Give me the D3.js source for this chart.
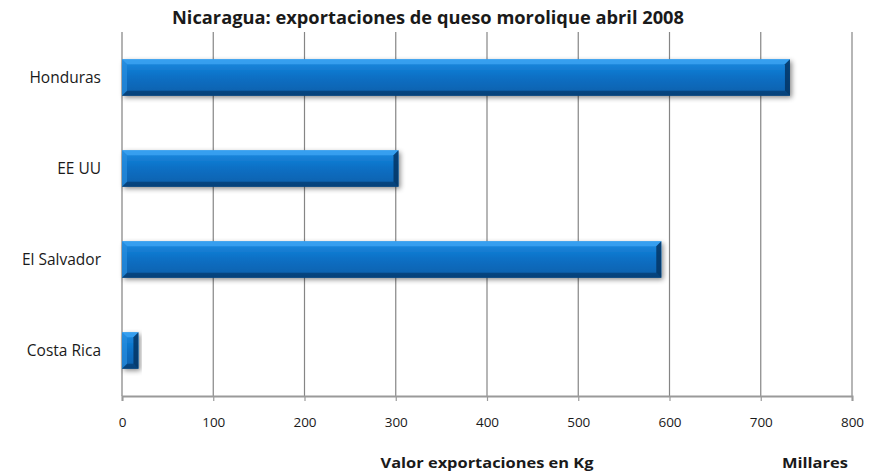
<!DOCTYPE html>
<html><head><meta charset="utf-8">
<script src="https://cdn.jsdelivr.net/npm/d3@7"></script>
<style>
body{margin:0;background:#fff;}
text{font-family:"Liberation Sans Narrow","Open Sans","DejaVu Sans",sans-serif;fill:#1a1a1a;}
</style></head>
<body><svg id="c" width="879" height="474"></svg>
<script>
const categories = ["Honduras","EE UU","El Salvador","Costa Rica"];
const values = [732, 303, 591, 18];
const ticks = [0,100,200,300,400,500,600,700,800];
const title = "Nicaragua: exportaciones de queso morolique abril 2008";
const xTitle = "Valor exportaciones en Kg";
const unitLabel = "Millares";

const svg = d3.select("#c");
const m = {l:122, r:27, t:32, b:78};
const W = 879, H = 474;
const x = d3.scaleLinear().domain([0,800]).range([m.l, W-m.r]);
const y = d3.scaleBand().domain(categories).range([m.t, H-m.b]).paddingInner(0.6).paddingOuter(0.3);

const defs = svg.append("defs");
const g = defs.append("linearGradient").attr("id","bar").attr("x1",0).attr("y1",0).attr("x2",0).attr("y2",1);
[[0,"#2a90e2"],[0.2,"#1680d6"],[0.5,"#086fc4"],[0.85,"#0764b2"],[1,"#064c8a"]].forEach(s=>g.append("stop").attr("offset",s[0]).attr("stop-color",s[1]));
const f = defs.append("filter").attr("id","sh").attr("x","-10%").attr("y","-40%").attr("width","130%").attr("height","180%");
f.append("feDropShadow").attr("dx",2).attr("dy",2).attr("stdDeviation",2.5).attr("flood-color","#000").attr("flood-opacity",0.45);

// gridlines
svg.append("g").selectAll("line").data(ticks.slice(1)).join("line")
  .attr("x1",d=>x(d)).attr("x2",d=>x(d)).attr("y1",m.t).attr("y2",H-m.b)
  .attr("stroke","#858585").attr("stroke-width",1.2);

// left axis
svg.append("line").attr("x1",x(0)).attr("x2",x(0)).attr("y1",m.t).attr("y2",H-m.b).attr("stroke","#9a9a9a").attr("stroke-width",1.5);

// bottom axis
const xa = svg.append("g").attr("transform",`translate(0,${H-m.b})`)
  .call(d3.axisBottom(x).tickValues(ticks).tickSize(5).tickPadding(16).tickFormat(d3.format("d")));
xa.select(".domain").attr("stroke","#9a9a9a").attr("stroke-width",2);
xa.selectAll(".tick line").attr("stroke","#9a9a9a").attr("stroke-width",1.2);
xa.selectAll(".tick text").attr("font-size",13.5).attr("font-family",'"Liberation Sans Narrow","Open Sans",sans-serif').attr("fill","#1a1a1a");

// category labels
svg.append("g").selectAll("text").data(categories).join("text")
  .attr("x",101).attr("y",d=>y(d)+y.bandwidth()/2).attr("dy","0.35em")
  .attr("text-anchor","end").attr("font-size",15.5).text(d=>d);

// bars
const bw = 5;
const bars = svg.append("g").selectAll("g").data(categories.map((c,i)=>({c,v:values[i]}))).join("g");
bars.append("rect").attr("x",x(0)).attr("y",d=>y(d.c)).attr("width",d=>x(d.v)-x(0)).attr("height",y.bandwidth())
  .attr("fill","url(#bar)").attr("filter","url(#sh)");
// bevels
bars.append("polygon").attr("points",d=>{const x0=x(0),x1=x(d.v),y0=y(d.c);const b=Math.min(bw,(x1-x0)/2);
  return [[x0,y0],[x1,y0],[x1-b,y0+b],[x0+b,y0+b]].join(" ");}).attr("fill","#3aa2f2").attr("opacity",0.85);
bars.append("polygon").attr("points",d=>{const x0=x(0),x1=x(d.v),y1=y(d.c)+y.bandwidth();const b=Math.min(bw,(x1-x0)/2);
  return [[x0,y1],[x1,y1],[x1-b,y1-b],[x0+b,y1-b]].join(" ");}).attr("fill","#063f75").attr("opacity",0.8);
bars.append("polygon").attr("points",d=>{const x1=x(d.v),y0=y(d.c),y1=y0+y.bandwidth();const b=Math.min(bw,(x1-x(0))/2);
  return [[x1,y0],[x1,y1],[x1-b,y1-b],[x1-b,y0+b]].join(" ");}).attr("fill","#053564").attr("opacity",0.85);
bars.append("polygon").attr("points",d=>{const x0=x(0),y0=y(d.c),y1=y0+y.bandwidth();const b=Math.min(bw,(x(d.v)-x0)/2);
  return [[x0,y0],[x0,y1],[x0+b,y1-b],[x0+b,y0+b]].join(" ");}).attr("fill","#2a8ee0").attr("opacity",0.7);

// titles
svg.append("text").attr("x",428).attr("y",24).attr("text-anchor","middle").attr("font-size",17).attr("font-weight","bold")
  .attr("textLength",512).attr("lengthAdjust","spacingAndGlyphs").text(title);
svg.append("text").attr("x",487).attr("y",468).attr("text-anchor","middle").attr("font-size",15).attr("font-weight","bold")
  .attr("textLength",213).attr("lengthAdjust","spacingAndGlyphs").text(xTitle);
svg.append("text").attr("x",815).attr("y",468).attr("text-anchor","middle").attr("font-size",15).attr("font-weight","bold")
  .attr("textLength",66).attr("lengthAdjust","spacingAndGlyphs").text(unitLabel);
</script></body></html>
